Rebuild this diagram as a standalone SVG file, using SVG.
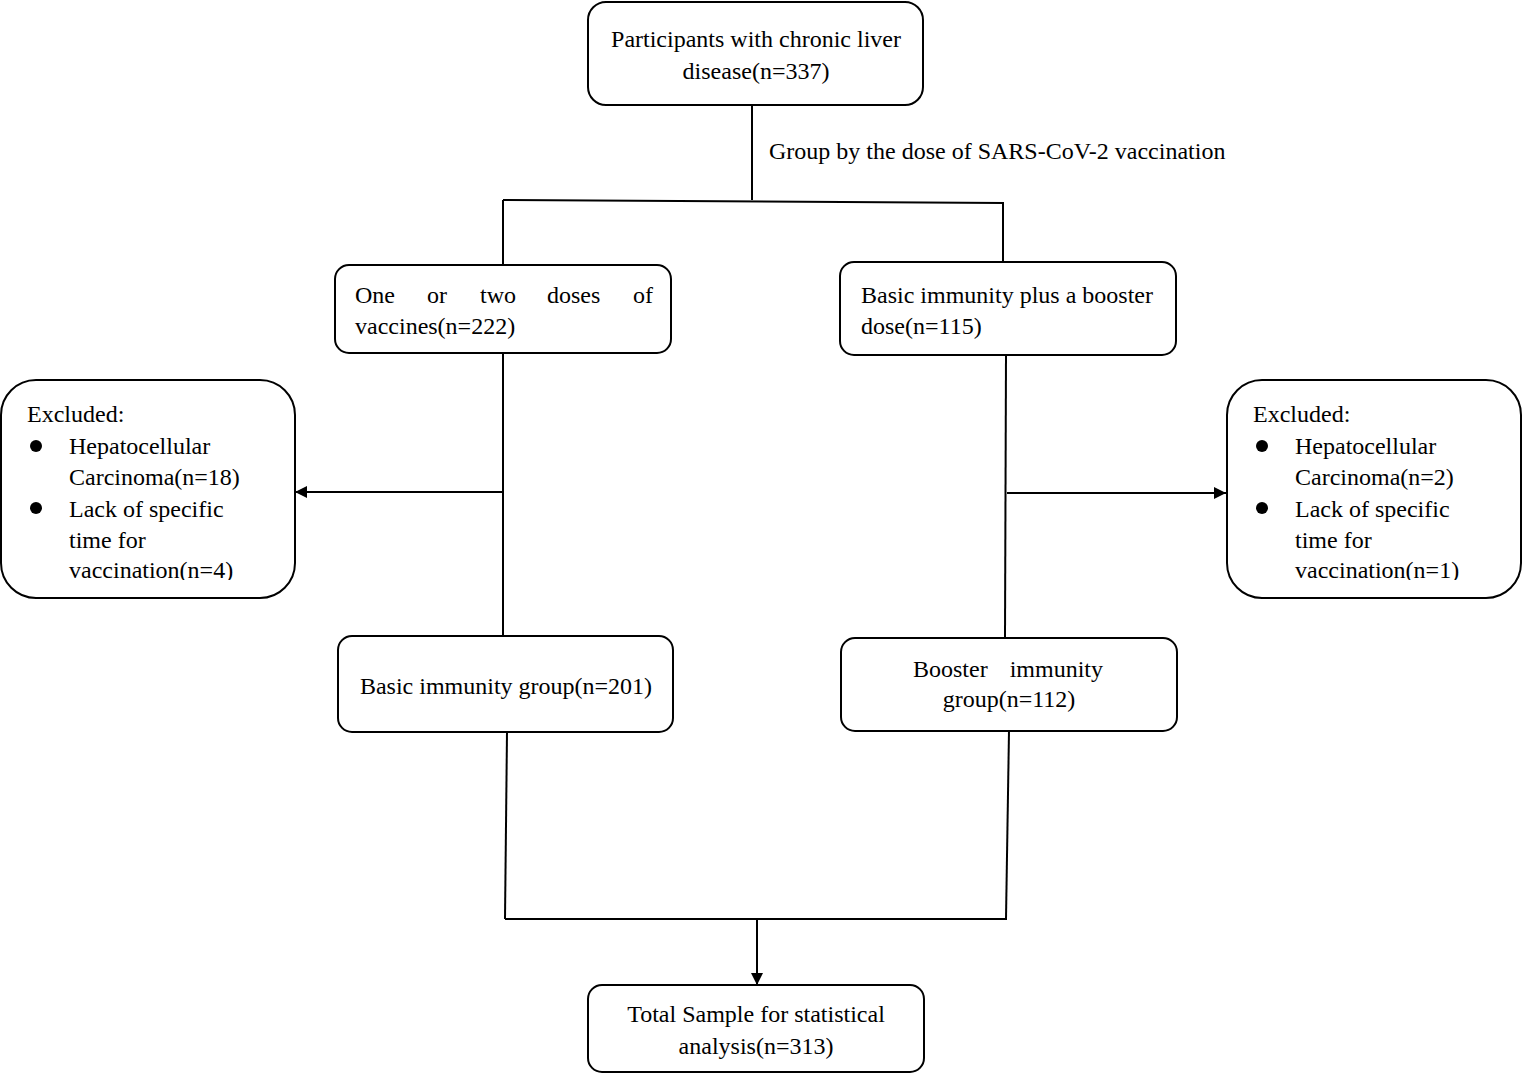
<svg xmlns="http://www.w3.org/2000/svg" width="1523" height="1074" viewBox="0 0 1523 1074">
<style>
.box{fill:#fff;stroke:#000;stroke-width:2}
.t{font-family:"Liberation Serif","Times New Roman",serif;font-size:24px;fill:#000}
.c{text-anchor:middle}
.e{text-anchor:end}
.ln{fill:none;stroke:#000;stroke-width:2}
</style>
<defs>
<marker id="ahb" viewBox="0 0 10 10" refX="10" refY="5" markerWidth="12" markerHeight="12" markerUnits="userSpaceOnUse" orient="auto">
<path d="M0,0 L10,5 L0,10 z" fill="#000"/>
</marker>
<clipPath id="clipL"><rect x="0" y="379" width="300" height="201"/></clipPath>
<clipPath id="clipR"><rect x="1226" y="379" width="297" height="201"/></clipPath>
</defs>
<rect width="1523" height="1074" fill="#fff"/>
<g id="connectors">
<path class="ln" d="M752,105 L752,200"/>
<path class="ln" d="M503,200 L1004,203"/>
<path class="ln" d="M503,200 L503,265"/>
<path class="ln" d="M1003,203 L1003,262"/>
<path class="ln" d="M503,353 L503,636"/>
<path class="ln" d="M503,492 L295,492" marker-end="url(#ahb)"/>
<path class="ln" d="M1006,355 L1005,637"/>
<path class="ln" d="M1007,493 L1226,493" marker-end="url(#ahb)"/>
<path class="ln" d="M507,732 L505,919"/>
<path class="ln" d="M1009,731 L1006,919"/>
<path class="ln" d="M505,919 L1007,919"/>
<path class="ln" d="M757,919 L757,985" marker-end="url(#ahb)"/>
<text class="t" x="769" y="159">Group by the dose of SARS-CoV-2 vaccination</text>
</g>
<g id="n-participants">
<rect class="box" x="588" y="2" width="335" height="103" rx="18"/>
<text class="t c" x="756" y="47">Participants with chronic liver</text>
<text class="t c" x="756" y="79">disease(n=337)</text>
</g>
<g id="n-onetwo">
<rect class="box" x="335" y="265" width="336" height="88" rx="14"/>
<text class="t" y="303"><tspan x="355">One</tspan><tspan x="427">or</tspan><tspan x="480">two</tspan><tspan x="547">doses</tspan><tspan x="653" text-anchor="end">of</tspan></text>
<text class="t" x="355" y="334">vaccines(n=222)</text>
</g>
<g id="n-booster-dose">
<rect class="box" x="840" y="262" width="336" height="93" rx="14"/>
<text class="t" x="861" y="303">Basic immunity plus a booster</text>
<text class="t" x="861" y="334">dose(n=115)</text>
</g>
<g id="n-excl-left">
<rect class="box" x="1" y="380" width="294" height="218" rx="35"/>
<g clip-path="url(#clipL)">
<text class="t" x="27" y="422">Excluded:</text>
<circle cx="36" cy="446" r="6"/>
<text class="t" x="69" y="454">Hepatocellular</text>
<text class="t" x="69" y="485">Carcinoma(n=18)</text>
<circle cx="36" cy="508" r="6"/>
<text class="t" x="69" y="517">Lack of specific</text>
<text class="t" x="69" y="548">time for</text>
<text class="t" x="69" y="578">vaccination(n=4)</text>
</g>
</g>
<g id="n-excl-right">
<rect class="box" x="1227" y="380" width="294" height="218" rx="35"/>
<g clip-path="url(#clipR)">
<text class="t" x="1253" y="422">Excluded:</text>
<circle cx="1262" cy="446" r="6"/>
<text class="t" x="1295" y="454">Hepatocellular</text>
<text class="t" x="1295" y="485">Carcinoma(n=2)</text>
<circle cx="1262" cy="508" r="6"/>
<text class="t" x="1295" y="517">Lack of specific</text>
<text class="t" x="1295" y="548">time for</text>
<text class="t" x="1295" y="578">vaccination(n=1)</text>
</g>
</g>
<g id="n-basic-group">
<rect class="box" x="338" y="636" width="335" height="96" rx="14"/>
<text class="t c" x="506" y="694">Basic immunity group(n=201)</text>
</g>
<g id="n-booster-group">
<rect class="box" x="841" y="638" width="336" height="93" rx="14"/>
<text class="t" y="677"><tspan x="913">Booster</tspan><tspan x="1103" text-anchor="end">immunity</tspan></text>
<text class="t c" x="1009" y="707">group(n=112)</text>
</g>
<g id="n-total">
<rect class="box" x="588" y="985" width="336" height="87" rx="14"/>
<text class="t c" x="756" y="1022">Total Sample for statistical</text>
<text class="t c" x="756" y="1054">analysis(n=313)</text>
</g>
</svg>
